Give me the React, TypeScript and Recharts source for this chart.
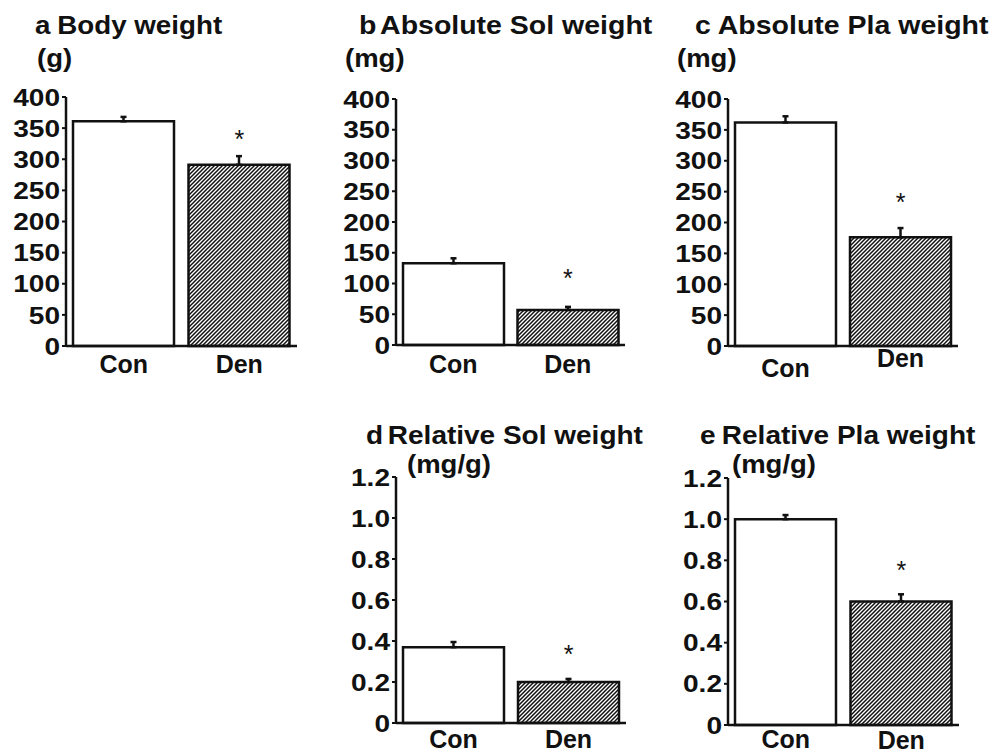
import React from "react";
import { ComposedChart, Bar, Cell, XAxis, YAxis, ErrorBar, Scatter } from "recharts";

const categories = ["Con", "Den"];

const bodyWeight = [361, 291];
const bodyWeightErr = [7, 14];
const bodyWeightStar = [null, 339];

const absSol = [133, 57];
const absSolErr = [8, 5];
const absSolStar = [null, 115];

const absPla = [362, 176];
const absPlaErr = [10, 15];
const absPlaStar = [null, 240];

const relSol = [0.37, 0.2];
const relSolErr = [0.025, 0.015];
const relSolStar = [null, 0.356];

const relPla = [1.0, 0.6];
const relPlaErr = [0.02, 0.035];
const relPlaStar = [null, 0.772];

const absTicks = [0, 50, 100, 150, 200, 250, 300, 350, 400];
const absTickLabels = ["0", "50", "100", "150", "200", "250", "300", "350", "400"];
const relTicks = [0, 0.2, 0.4, 0.6, 0.8, 1.0, 1.2];
const relTickLabels = ["0", "0.2", "0.4", "0.6", "0.8", "1.0", "1.2"];

const FONT = "'Liberation Sans', Arial, Helvetica, sans-serif";
const INK = "#111";

function buildData(values: number[], errs: number[], stars: (number | null)[]) {
  return categories.map((name, i) => ({
    name,
    value: values[i],
    err: [0, errs[i]],
    star: stars[i],
  }));
}

const makeYTick = (ticks: number[], labels: string[]) => (props: any) => {
  const { x, y, payload } = props;
  const idx = ticks.findIndex((t) => Math.abs(t - payload.value) < 1e-9);
  const label = idx >= 0 ? labels[idx] : String(payload.value);
  return (
    <text
      transform={`translate(${x},${y}) scale(1.17,1)`}
      textAnchor="end"
      dy="0.36em"
      fontSize={24}
      fontWeight="bold"
      fontFamily={FONT}
      fill={INK}
    >
      {label}
    </text>
  );
};

const makeXTick = (offsets: number[]) => (props: any) => {
  const { x, y, payload, index } = props;
  const off = offsets[index] ?? 0;
  return (
    <text
      x={x}
      y={y + 17 + off}
      textAnchor="middle"
      dy="0.36em"
      fontSize={25}
      fontWeight="bold"
      fontFamily={FONT}
      fill={INK}
    >
      {payload.value}
    </text>
  );
};

const StarShape = (props: any) => {
  const { cx, cy, payload } = props;
  if (payload == null || payload.star == null || cx == null || cy == null) return <g />;
  return (
    <text x={cx} y={cy + 13} textAnchor="middle" fontSize={25} fontFamily={FONT} fill={INK}>
      *
    </text>
  );
};

type PanelProps = {
  left: number;
  top: number;
  width: number;
  height: number;
  margin: { top: number; right: number; bottom: number; left: number };
  data: any[];
  ticks: number[];
  labels: string[];
  domainMax: number;
  xOffsets: number[];
};

function Panel(p: PanelProps) {
  return (
    <div style={{ position: "absolute", left: p.left, top: p.top, width: p.width, height: p.height }}>
      <ComposedChart width={p.width} height={p.height} data={p.data} margin={p.margin}>
        <XAxis
          dataKey="name"
          type="category"
          tickLine={false}
          tickSize={0}
          tickMargin={0}
          axisLine={{ stroke: INK, strokeWidth: 2.5 }}
          tick={makeXTick(p.xOffsets)}
          height={30}
        />
        <YAxis
          type="number"
          domain={[0, p.domainMax]}
          ticks={p.ticks}
          interval={0}
          width={60}
          tickSize={4}
          tickMargin={2}
          tickLine={{ stroke: INK, strokeWidth: 2 }}
          axisLine={{ stroke: INK, strokeWidth: 2.5 }}
          tick={makeYTick(p.ticks, p.labels)}
        />
        <Bar dataKey="value" barSize={101} stroke={INK} strokeWidth={2.5} isAnimationActive={false}>
          {p.data.map((d, i) => (
            <Cell key={d.name} fill={i === 0 ? "#ffffff" : "url(#hatch)"} />
          ))}
          <ErrorBar dataKey="err" direction="y" width={3} stroke={INK} strokeWidth={2.5} />
        </Bar>
        <Scatter dataKey="star" shape={StarShape} isAnimationActive={false} />
      </ComposedChart>
    </div>
  );
}

function Title({ x, y, letter, text, gap, sx }: { x: number; y: number; letter: string; text: string; gap: number; sx: number }) {
  return (
    <text transform={`translate(${x},${y}) scale(${sx},1)`} fontSize={25} fontWeight="bold" fontFamily={FONT} fill={INK}>
      <tspan x={0}>{letter}</tspan>
      <tspan x={gap}>{text}</tspan>
    </text>
  );
}

function Unit({ x, y, text }: { x: number; y: number; text: string }) {
  return (
    <text transform={`translate(${x},${y}) scale(1.1,1)`} fontSize={25} fontWeight="bold" fontFamily={FONT} fill={INK}>
      {text}
    </text>
  );
}

export default function App() {
  return (
    <div style={{ position: "absolute", left: 0, top: 0, width: 1003, height: 755, background: "#fff", overflow: "hidden" }}>
      <svg width={0} height={0} style={{ position: "absolute" }}>
        <defs>
          <pattern id="hatch" patternUnits="userSpaceOnUse" width={4} height={4}>
            <rect width={4} height={4} fill="#fff" />
            <path d="M-1,1 l2,-2 M0,4 l4,-4 M3,5 l2,-2" stroke={INK} strokeWidth={1.5} />
          </pattern>
        </defs>
      </svg>
      <svg width={1003} height={755} style={{ position: "absolute", left: 0, top: 0 }}>
        <Title x={35} y={34} letter="a" text="Body weight" gap={20} sx={1.11} />
        <Unit x={37} y={67} text="(g)" />
        <Title x={359} y={34} letter="b" text="Absolute Sol weight" gap={18.5} sx={1.14} />
        <Unit x={345} y={67} text="(mg)" />
        <Title x={695} y={34} letter="c" text="Absolute Pla weight" gap={20} sx={1.14} />
        <Unit x={677} y={67} text="(mg)" />
        <Title x={366} y={444} letter="d" text="Relative Sol weight" gap={19.5} sx={1.12} />
        <Unit x={407} y={473} text="(mg/g)" />
        <Title x={700} y={444} letter="e" text="Relative Pla weight" gap={19.5} sx={1.12} />
        <Unit x={732} y={473} text="(mg/g)" />
      </svg>
      <Panel
        left={0}
        top={0}
        width={330}
        height={390}
        margin={{ top: 97, right: 33, bottom: 14, left: 6 }}
        data={buildData(bodyWeight, bodyWeightErr, bodyWeightStar)}
        ticks={absTicks}
        labels={absTickLabels}
        domainMax={400}
        xOffsets={[1, 1]}
      />
      <Panel
        left={330}
        top={0}
        width={330}
        height={390}
        margin={{ top: 99, right: 35, bottom: 15, left: 6 }}
        data={buildData(absSol, absSolErr, absSolStar)}
        ticks={absTicks}
        labels={absTickLabels}
        domainMax={400}
        xOffsets={[2, 2]}
      />
      <Panel
        left={660}
        top={0}
        width={343}
        height={390}
        margin={{ top: 99, right: 45, bottom: 14, left: 8 }}
        data={buildData(absPla, absPlaErr, absPlaStar)}
        ticks={absTicks}
        labels={absTickLabels}
        domainMax={400}
        xOffsets={[5, -5]}
      />
      <Panel
        left={330}
        top={390}
        width={330}
        height={365}
        margin={{ top: 87, right: 34, bottom: 2, left: 6 }}
        data={buildData(relSol, relSolErr, relSolStar)}
        ticks={relTicks}
        labels={relTickLabels}
        domainMax={1.2}
        xOffsets={[-1, -1]}
      />
      <Panel
        left={660}
        top={390}
        width={343}
        height={365}
        margin={{ top: 88, right: 44, bottom: 0, left: 8 }}
        data={buildData(relPla, relPlaErr, relPlaStar)}
        ticks={relTicks}
        labels={relTickLabels}
        domainMax={1.2}
        xOffsets={[-3, -2]}
      />
    </div>
  );
}
